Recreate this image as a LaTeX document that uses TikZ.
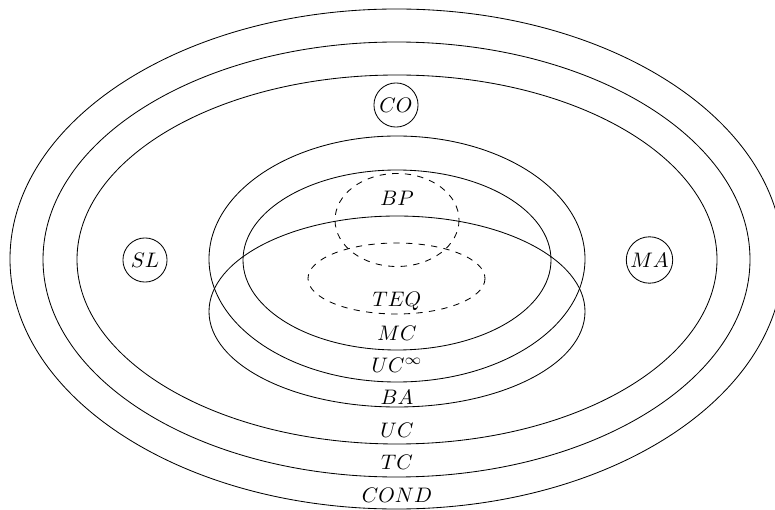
\documentclass[tikz,border=0pt]{standalone}
\begin{document}
\begin{tikzpicture}[x=0.476pt,y=-0.476pt,
  ring/.style={draw,line width=0.4pt},
  dashring/.style={draw,dashed,line width=0.4pt},
  lab/.style={inner sep=0pt,anchor=center},
  small/.style={draw,circle,minimum size=21pt,inner sep=1pt}]
\clip (0,0) rectangle (775,510);
% nested ellipses
\draw[ring] (396.5,259) ellipse [x radius=386.5, y radius=250];
\draw[ring] (396.5,259.5) ellipse [x radius=353.5, y radius=217.5];
\draw[ring] (397,259.5) ellipse [x radius=320, y radius=184.5];
\draw[ring] (397,259) ellipse [x radius=188, y radius=123];
\draw[ring] (397,260) ellipse [x radius=154, y radius=90];
\draw[ring] (397,311.5) ellipse [x radius=188, y radius=95.5];
\draw[dashring] (397,220) ellipse [x radius=62, y radius=46.5];
\draw[dashring] (396.5,278.5) ellipse [x radius=88.5, y radius=35.5];
% labels
\node[lab] (bp) at (397,198) {$BP$};
\node[lab,anchor=base] (teq) at (397,307) {$TEQ$};
\node[lab] (mc) at (397,333) {$MC$};
\node[lab,anchor=base] (ucinf) at (397,372) {$UC^{\infty}$};
\node[lab] (ba) at (397,397.5) {$BA$};
\node[lab] (uc) at (397,430) {$UC$};
\node[lab] (tc) at (397,462.5) {$TC$};
\node[lab] (cond) at (397,495) {$COND$};
% small circles
\node[small] (co) at (396,105) {$CO$};
\node[small] (sl) at (145,260) {$SL$};
\node[small] (ma) at (649.5,260) {$MA$};
\end{tikzpicture}
\end{document}
